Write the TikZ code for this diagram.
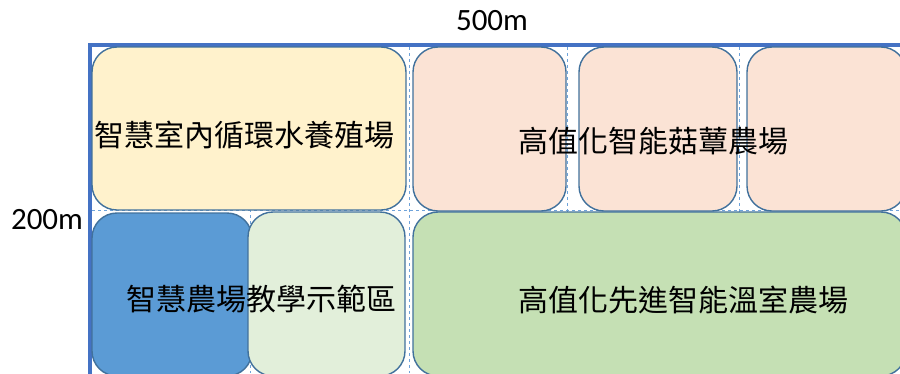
\documentclass[tikz,border=0pt]{standalone}
\usepackage{fontspec}
\setmainfont{Carlito}
\newfontfamily\cjk{Noto Sans CJK TC}
\usepackage{xcolor}
\definecolor{frameblue}{HTML}{4472C4}
\definecolor{boxline}{HTML}{41719C}
\definecolor{gridblue}{HTML}{6FA3DA}
\definecolor{fishfill}{HTML}{FFF2CC}
\definecolor{mushfill}{HTML}{FBE3D5}
\definecolor{smartfill}{HTML}{5B9BD5}
\definecolor{teachfill}{HTML}{E2EFDA}
\definecolor{greenfill}{HTML}{C5E0B4}

\begin{document}
\begin{tikzpicture}[x=1pt, y=-1pt,
	zone/.style={draw=boxline, line width=1.4pt, rounded corners=25pt, inner sep=0pt},
	label/.style={font=\cjk\fontsize{30}{36}\selectfont, inner sep=0pt},
	size/.style={font=\fontsize{31}{36}\selectfont, inner sep=0pt}]
	\useasboundingbox (0,0) rectangle (900,373);
	\clip (0,0) rectangle (900,373);
	\draw [frameblue, line width=3.5pt] (90,45) rectangle (940,420);
	\foreach \gx in {250,409,567,739}
		\draw [gridblue, dashed, line width=0.8pt] (\gx,47) -- (\gx,373);
	\draw [gridblue, dashed, line width=0.8pt] (92,210) -- (900,210);
	\node [zone, fill=fishfill, minimum width=314pt, minimum height=163pt] (fish) at (249,128.5) {};
	\node [zone, fill=mushfill, minimum width=153pt, minimum height=164pt] (mushA) at (489.5,129) {};
	\node [zone, fill=mushfill, minimum width=158pt, minimum height=164pt] (mushB) at (658,129) {};
	\node [zone, fill=mushfill, minimum width=159pt, minimum height=164pt] (mushC) at (826.5,129) {};
	\node [zone, fill=smartfill, minimum width=160pt, minimum height=163pt] (smart) at (172,294.5) {};
	\node [zone, fill=teachfill, minimum width=157pt, minimum height=164pt] (teach) at (326.5,294) {};
	\node [zone, fill=greenfill, minimum width=493pt, minimum height=164pt] (green) at (659.5,294) {};
	\node [label] (fishtxt) at (244,135) {智慧室內循環水養殖場};
	\node [label] (mushtxt) at (653,141) {高值化智能菇蕈農場};
	\node [label] (teachtxt) at (261,299) {智慧農場教學示範區};
	\node [label] (greentxt) at (683,300) {高值化先進智能溫室農場};
	\node [size] (width) at (492,21) {500m};
	\node [size] (depth) at (47,220) {200m};
\end{tikzpicture}
\end{document}
